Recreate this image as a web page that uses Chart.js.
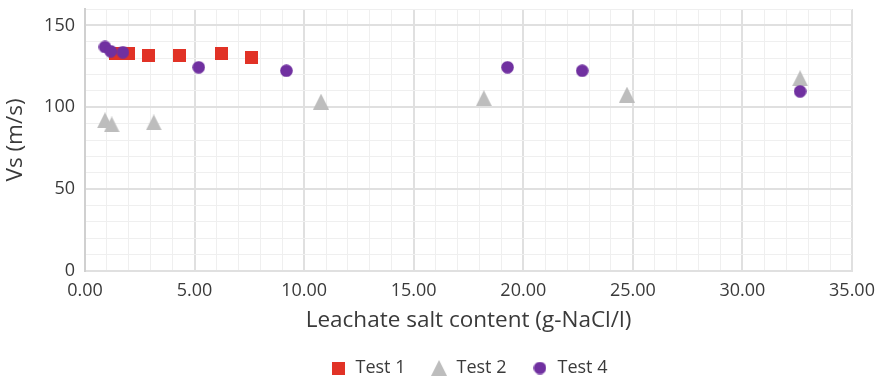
<!DOCTYPE html>
<html>
<head>
<meta charset="utf-8">
<script src="https://cdn.jsdelivr.net/npm/chart.js@4.4.1/dist/chart.umd.min.js"></script>
<style>
  html, body { margin: 0; padding: 0; background: #fff; }
  #wrap { width: 883px; height: 380px; }
</style>
</head>
<body>
<div id="wrap"><canvas id="chart" width="883" height="380"></canvas></div>
<script>
// --- DATA ---
const test1X = [1.37, 1.98, 2.88, 4.29, 6.21, 7.62];
const test1Y = [133.1, 133.1, 131.9, 131.9, 133.1, 130.3];

const test2X = [0.91, 1.22, 3.14, 10.77, 18.20, 24.73, 32.63];
const test2Y = [92.0, 89.5, 90.7, 103.4, 105.5, 107.7, 117.7];

const test4X = [0.91, 1.17, 1.73, 5.19, 9.19, 19.28, 22.69, 32.63];
const test4Y = [136.8, 134.2, 133.6, 124.4, 122.3, 124.4, 122.3, 109.7];

const seriesNames = ['Test 1', 'Test 2', 'Test 4'];

// Colours
const colors = {
    red: '#E13226',
    grey: '#BDBDBD',
    purple: '#7030A0',
    text: '#3a3a3a',
    gridMinor: '#efefef',
    gridMajor: '#e0e0e0'
};

const FONT = "'Open Sans', sans-serif";

// --- MARKER IMAGES ---
function makeSquare(size, color) {
    const c = document.createElement('canvas');
    c.width = size; c.height = size;
    const g = c.getContext('2d');
    g.fillStyle = color;
    g.fillRect(0, 0, size, size);
    return c;
}
function makeCircle(size, color) {
    const c = document.createElement('canvas');
    c.width = size; c.height = size;
    const g = c.getContext('2d');
    g.fillStyle = color;
    g.beginPath();
    g.arc(size / 2, size / 2, size / 2 - 0.2, 0, Math.PI * 2);
    g.fill();
    return c;
}
function makeTriangle(w, h, color) {
    const c = document.createElement('canvas');
    c.width = w; c.height = h;
    const g = c.getContext('2d');
    g.fillStyle = color;
    g.beginPath();
    g.moveTo(w / 2, 0);
    g.lineTo(w, h);
    g.lineTo(0, h);
    g.closePath();
    g.fill();
    return c;
}

const squareImg = makeSquare(13, colors.red);
const triangleImg = makeTriangle(16, 16, colors.grey);
const circleImg = makeCircle(13, colors.purple);

const toPoints = (xs, ys) => xs.map((x, i) => ({ x: x, y: ys[i] }));

// --- CHART ---
const ctx = document.getElementById('chart').getContext('2d');
new Chart(ctx, {
    type: 'scatter',
    data: {
        datasets: [
            { label: seriesNames[0], data: toPoints(test1X, test1Y), pointStyle: squareImg, pointRadius: 7, backgroundColor: colors.red, borderColor: colors.red, order: 3 },
            { label: seriesNames[1], data: toPoints(test2X, test2Y), pointStyle: triangleImg, pointRadius: 8, backgroundColor: colors.grey, borderColor: colors.grey, order: 2 },
            { label: seriesNames[2], data: toPoints(test4X, test4Y), pointStyle: circleImg, pointRadius: 7, backgroundColor: colors.purple, borderColor: colors.purple, order: 1 }
        ]
    },
    options: {
        responsive: false,
        animation: false,
        layout: { padding: { top: 9, right: 31, bottom: -7, left: 0 } },
        scales: {
            x: {
                type: 'linear',
                min: 0, max: 35,
                afterFit: (scale) => { scale.height = 63; scale.paddingLeft = 0; scale.paddingRight = 0; },
                ticks: {
                    stepSize: 1, autoSkip: false, maxRotation: 0, padding: 9,
                    color: colors.text, font: { family: FONT, size: 18 },
                    callback: (v) => (v % 5 === 0 ? Number(v).toFixed(2) : '')
                },
                grid: {
                    drawTicks: false,
                    color: (c) => (c.tick && c.tick.value % 5 === 0 ? colors.gridMajor : colors.gridMinor),
                    lineWidth: (c) => (c.tick && c.tick.value % 5 === 0 ? 2 : 1)
                },
                border: { color: colors.gridMajor, width: 1 },
                title: {
                    display: true, text: 'Leachate salt content (g-NaCl/l)',
                    color: colors.text, font: { family: FONT, size: 22.5 },
                    padding: { top: 0, bottom: 0 }
                }
            },
            y: {
                type: 'linear',
                min: 0, max: 160,
                afterFit: (scale) => { scale.width = 85; scale.paddingTop = 0; scale.paddingBottom = 0; },
                ticks: {
                    stepSize: 10, padding: 10, autoSkip: false,
                    color: colors.text, font: { family: FONT, size: 18 },
                    callback: (v) => (v % 50 === 0 ? String(v) : '')
                },
                grid: {
                    drawTicks: false,
                    color: (c) => (c.tick && c.tick.value % 50 === 0 ? colors.gridMajor : colors.gridMinor),
                    lineWidth: (c) => (c.tick && c.tick.value % 50 === 0 ? 2 : 1)
                },
                border: { color: '#d0d0d0', width: 2 },
                title: {
                    display: true, text: 'Vs (m/s)',
                    color: colors.text, font: { family: FONT, size: 22.5 },
                    padding: { top: 2, bottom: 0 }
                }
            }
        },
        plugins: {
            tooltip: { enabled: false },
            legend: {
                position: 'bottom',
                fullSize: false,
                labels: {
                    usePointStyle: true,
                    pointStyleWidth: 17,
                    padding: 25,
                    color: colors.text,
                    font: { family: FONT, size: 18 },
                    sort: (a, b) => a.datasetIndex - b.datasetIndex
                }
            }
        }
    }
});
</script>
</body>
</html>
